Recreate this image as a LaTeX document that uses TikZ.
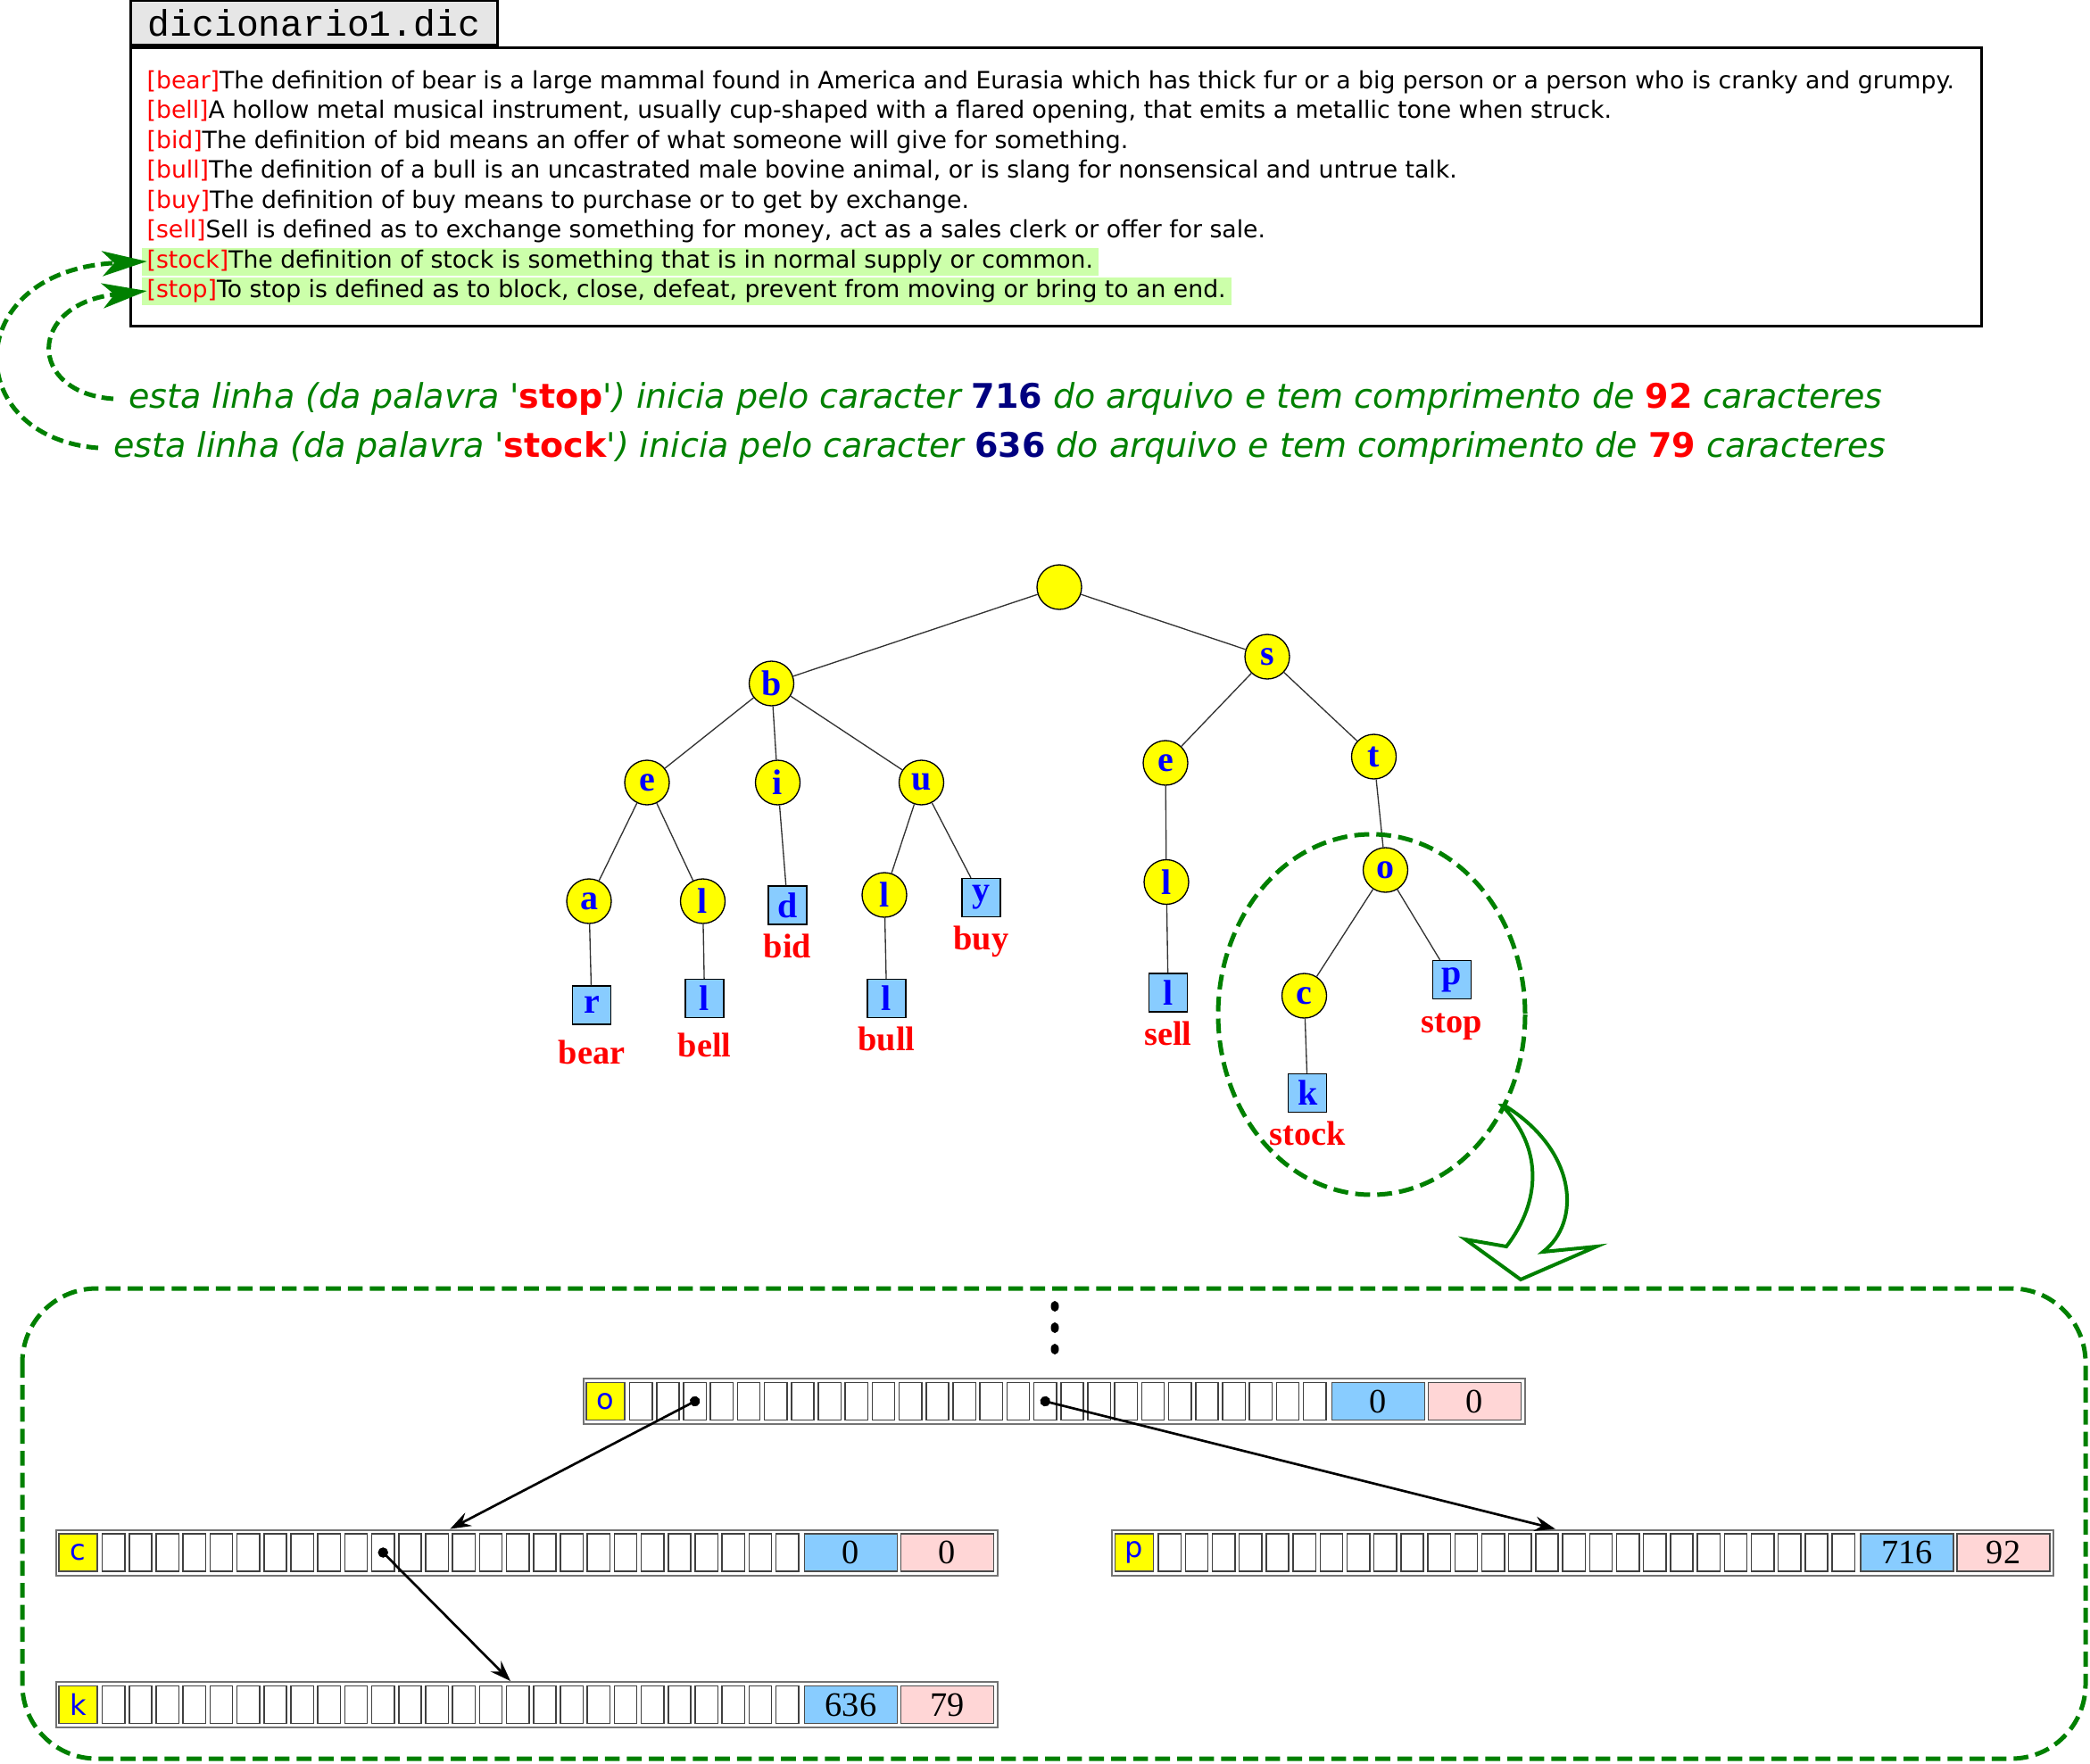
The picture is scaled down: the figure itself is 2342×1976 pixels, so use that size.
\documentclass[tikz,border=0pt]{standalone}
\usepackage{fontspec}
\setmainfont{DejaVu Sans}
\newfontfamily\trieserif{Liberation Serif}
\newfontfamily\triemono{Liberation Mono}
\usetikzlibrary{
  positioning,
  calc,
  arrows.meta}
\definecolor{notegreen}{RGB}{0,128,0}
\definecolor{hlgreen}{RGB}{204,255,170}
\definecolor{tabgray}{RGB}{230,230,230}
\definecolor{nodeyellow}{RGB}{255,255,0}
\definecolor{leafblue}{RGB}{136,204,255}
\definecolor{lenpink}{RGB}{255,214,214}
\definecolor{posnavy}{RGB}{0,0,128}
\definecolor{letterblue}{RGB}{0,0,255}
\newcommand{\wordkey}[1]{\textcolor{red}{[#1]}}
\newcommand{\noteword}[1]{\textcolor{red}{\upshape\bfseries #1}}
\newcommand{\notepos}[1]{\textcolor{posnavy}{\upshape\bfseries #1}}
\newcommand{\notelen}[1]{\textcolor{red}{\upshape\bfseries #1}}
\tikzset{
  %% filebox : the dictionary file
  filebox/.style={
    rectangle,
    draw=black,
    line width=0.8pt,
    anchor=north west,
    minimum width=622.2pt,
    minimum height=93.6pt
  },
  %% filetab : tab with the file name
  filetab/.style={
    rectangle,
    draw=black,
    fill=tabgray,
    line width=0.8pt,
    minimum width=123.3pt,
    minimum height=15pt,
    inner sep=0pt,
    font=\triemono\fontsize{12.4}{13}\selectfont
  },
  %% fileline : one line of the file
  fileline/.style={
    anchor=west,
    inner xsep=1.8pt,
    inner ysep=0.75pt,
    text height=6pt,
    text depth=1.9pt,
    font=\fontsize{8}{9.5}\selectfont
  },
  %% note : remark below the file
  note/.style={
    anchor=west,
    inner xsep=5pt,
    inner ysep=0pt,
    text=notegreen,
    font=\fontsize{11.4}{13}\selectfont\itshape
  },
  %% notearrow : from the remark to its line
  notearrow/.style={
    notegreen,
    line width=1.5pt,
    dash pattern=on 4pt off 2pt,
    -{Stealth[length=15pt, width=8.4pt, inset=4pt]},
    shorten >=-2pt
  },
  %% trienode : inner node of the trie
  trienode/.style={
    circle,
    draw=black,
    line width=0.4pt,
    fill=nodeyellow,
    minimum size=15pt,
    inner sep=0pt,
    text=letterblue,
    font=\trieserif\bfseries\fontsize{12}{12}\selectfont
  },
  %% leafnode : last letter of a word
  leafnode/.style={
    rectangle,
    draw=black,
    line width=0.4pt,
    fill=leafblue,
    minimum size=12.9pt,
    inner sep=0pt,
    text=letterblue,
    font=\trieserif\bfseries\fontsize{12}{12}\selectfont
  },
  %% wordlabel : the word ending at a leaf
  wordlabel/.style={
    text=red,
    inner sep=0pt,
    text height=7.8pt,
    text depth=2.5pt,
    font=\trieserif\bfseries\fontsize{11.5}{12}\selectfont
  },
  %% edge : trie connection
  edge/.style={black!80, line width=0.4pt},
  %% greendash : dashed green outline
  greendash/.style={notegreen, line width=1.5pt, dash pattern=on 5pt off 2.4pt},
  %% bigarrow : hollow arrow to the detail
  bigarrow/.style={notegreen, line width=1.2pt, line join=miter},
  %% cells of one array
  rowbox/.style={
    rectangle,
    draw=black!55,
    line width=0.6pt,
    minimum width=316.5pt,
    minimum height=15.3pt,
    inner sep=0pt
  },
  keycell/.style={
    rectangle,
    draw=black!70,
    fill=nodeyellow,
    line width=0.4pt,
    minimum width=12.9pt,
    minimum height=12.6pt,
    inner sep=0pt,
    text=letterblue,
    font=\fontsize{9.6}{10}\selectfont
  },
  lettercell/.style={
    rectangle,
    draw=black!75,
    line width=0.45pt,
    minimum width=7.6pt,
    minimum height=12.6pt,
    inner sep=0pt
  },
  poscell/.style={
    rectangle,
    draw=black!70,
    fill=leafblue,
    line width=0.4pt,
    minimum width=31.2pt,
    minimum height=12.6pt,
    inner sep=0pt,
    font=\trieserif\fontsize{11.5}{12}\selectfont
  },
  lencell/.style={
    poscell,
    fill=lenpink
  },
  %% pointer : child pointer between arrays
  pointer/.style={
    black,
    line width=0.8pt,
    {Circle[length=3.4pt]}-{Stealth[length=7pt, width=5pt, inset=2.5pt]},
    shorten <=-1.7pt
  },
  %% trierow : one array, use as trierow={letter/position/length}
  pics/trierow/.style args={#1/#2/#3}{
    code={
      \node (-box) [rowbox] at (527.5,25.5) {};
      \node (-key) [keycell] at (25,25.5) {#1};
      \foreach \k in {0,...,25}
        \node (-\k) [lettercell] at ({64.75+30.2*\k},25.5) {};
      \node (-pos) [poscell] at (891,25.5) {#2};
      \node (-len) [lencell] at (999,25.5) {#3};
    }
  }
}

\begin{document}
\begin{tikzpicture}
  [x=0.3pt,
  y=-0.3pt]

  \useasboundingbox (0,0) rectangle (2342,1976);

  %%% The dictionary file
  \node (filebox) [filebox] at (145,52) {};
  \node (filetab) [filetab, above right=0pt and 0pt of filebox.north west]{%
    dicionario1.dic
  };

  \node (bearline) [fileline] at (158,92.5) {%
    \wordkey{bear}The definition of bear is a large mammal found in America and Eurasia which has thick fur or a big person or a person who is cranky and grumpy.};
  \node (bellline) [fileline, below=0.24pt of bearline.south west, anchor=north west] {%
    \wordkey{bell}A hollow metal musical instrument, usually cup-shaped with a flared opening, that emits a metallic tone when struck.};
  \node (bidline) [fileline, below=0.24pt of bellline.south west, anchor=north west] {%
    \wordkey{bid}The definition of bid means an offer of what someone will give for something.};
  \node (bullline) [fileline, below=0.24pt of bidline.south west, anchor=north west] {%
    \wordkey{bull}The definition of a bull is an uncastrated male bovine animal, or is slang for nonsensical and untrue talk.};
  \node (buyline) [fileline, below=0.24pt of bullline.south west, anchor=north west] {%
    \wordkey{buy}The definition of buy means to purchase or to get by exchange.};
  \node (sellline) [fileline, below=0.24pt of buyline.south west, anchor=north west] {%
    \wordkey{sell}Sell is defined as to exchange something for money, act as a sales clerk or offer for sale.};
  \node (stockline) [fileline, fill=hlgreen, below=0.24pt of sellline.south west, anchor=north west] {%
    \wordkey{stock}The definition of stock is something that is in normal supply or common.};
  \node (stopline) [fileline, fill=hlgreen, below=0.24pt of stockline.south west, anchor=north west] {%
    \wordkey{stop}To stop is defined as to block, close, defeat, prevent from moving or bring to an end.};

  %% Remarks
  \node (stopnote) [note] at (127,447) {%
    esta linha (da palavra \textquotesingle\noteword{stop}\textquotesingle) inicia pelo caracter \notepos{716} do arquivo e tem comprimento de \notelen{92} caracteres};
  \node (stocknote) [note] at (110,502) {%
    esta linha (da palavra \textquotesingle\noteword{stock}\textquotesingle) inicia pelo caracter \notepos{636} do arquivo e tem comprimento de \notelen{79} caracteres};

  \draw [notearrow] (stopnote.west) .. controls +(-97,-7) and +(-128,14) .. (stopline.west);
  \draw [notearrow] (stocknote.west) .. controls +(-155,-12) and +(-203,10) .. (stockline.west);

  %%% The trie
  \node (root) [trienode] at (1187,658) {};
  \node (nb) [trienode] at (864.5,766) {b};
  \node (ns) [trienode] at (1420,736) {s};

  \node (nbe) [trienode] at (725,877) {e};
  \node (nbi) [trienode] at (871.5,877) {i};
  \node (nbu) [trienode] at (1032.5,877) {u};

  \node (nbea) [trienode] at (660,1010) {a};
  \node (nbel) [trienode] at (787.5,1010) {l};
  \node (leafbid) [leafnode] at (882.5,1014.5) {d};
  \node (nbul) [trienode] at (991,1003) {l};
  \node (leafbuy) [leafnode] at (1099.5,1006) {y};

  \node (leafbear) [leafnode] at (663,1126.5) {r};
  \node (leafbell) [leafnode] at (789.5,1119) {l};
  \node (leafbull) [leafnode] at (993.5,1119) {l};

  \node (nse) [trienode] at (1306,855) {e};
  \node (nst) [trienode] at (1539.5,848) {t};
  \node (nsel) [trienode] at (1307,988.5) {l};
  \node (leafsell) [leafnode] at (1309,1112.5) {l};
  \node (nsto) [trienode] at (1552.5,975) {o};
  \node (nstoc) [trienode] at (1461.5,1116) {c};
  \node (leafstop) [leafnode] at (1627,1098) {p};
  \node (leafstock) [leafnode] at (1465.3,1225) {k};

  %% Words
  \node (wbear) [wordlabel, below=5pt of leafbear] {bear};
  \node (wbell) [wordlabel, below=5pt of leafbell] {bell};
  \node (wbid) [wordlabel, below=3pt of leafbid] {bid};
  \node (wbuy) [wordlabel, below=3pt of leafbuy] {buy};
  \node (wbull) [wordlabel, below=3pt of leafbull] {bull};
  \node (wsell) [wordlabel, below=3pt of leafsell] {sell};
  \node (wstop) [wordlabel, below=3.3pt of leafstop] {stop};
  \node (wstock) [wordlabel, below=3pt of leafstock] {stock};

  %% Connections
  \draw [edge] (root) -- (nb);
  \draw [edge] (root) -- (ns);
  \draw [edge] (nb) -- (nbe);
  \draw [edge] (nb) -- (nbi);
  \draw [edge] (nb) -- (nbu);
  \draw [edge] (nbe) -- (nbea);
  \draw [edge] (nbe) -- (nbel);
  \draw [edge] (nbi) -- (leafbid);
  \draw [edge] (nbu) -- (nbul);
  \draw [edge] (nbu) -- (leafbuy);
  \draw [edge] (nbea) -- (leafbear);
  \draw [edge] (nbel) -- (leafbell);
  \draw [edge] (nbul) -- (leafbull);
  \draw [edge] (ns) -- (nse);
  \draw [edge] (ns) -- (nst);
  \draw [edge] (nse) -- (nsel);
  \draw [edge] (nsel) -- (leafsell);
  \draw [edge] (nst) -- (nsto);
  \draw [edge] (nsto) -- (nstoc);
  \draw [edge] (nsto) -- (leafstop);
  \draw [edge] (nstoc) -- (leafstock);

  %% Detail of the subtree
  \draw [greendash] (1537,1137) ellipse [x radius=172, y radius=202];
  \draw [bigarrow] (1683,1239) .. controls (1728,1285) and (1728,1345) .. (1688,1397)
  -- (1642,1389) -- (1704,1434) -- (1789,1397) -- (1729,1403)
  .. controls (1772,1370) and (1768,1290) .. (1686,1239) -- cycle;

  %%% Arrays of the subtree
  \draw [greendash, rounded corners=25pt] (25,1444) rectangle (2337,1971);
  \foreach \y in {1464,1488,1512}
    \fill (1182,\y) ellipse [x radius=4.5, y radius=6];

  \pic (rowo) at (653.5,1545) {trierow={o/0/0}};
  \pic (rowc) at (62.5,1714.5) {trierow={c/0/0}};
  \pic (rowp) at (1246,1714.5) {trierow={p/716/92}};
  \pic (rowk) at (62.5,1885) {trierow={k/636/79}};

  \draw [pointer] (rowo-2.center) -- ($(rowc-box.north west)!0.419!(rowc-box.north east)$);
  \draw [pointer] (rowo-15.center) -- ($(rowp-box.north west)!0.471!(rowp-box.north east)$);
  \draw [pointer] (rowc-10.center) -- ($(rowk-box.north west)!0.483!(rowk-box.north east)$);

\end{tikzpicture}
\end{document}
